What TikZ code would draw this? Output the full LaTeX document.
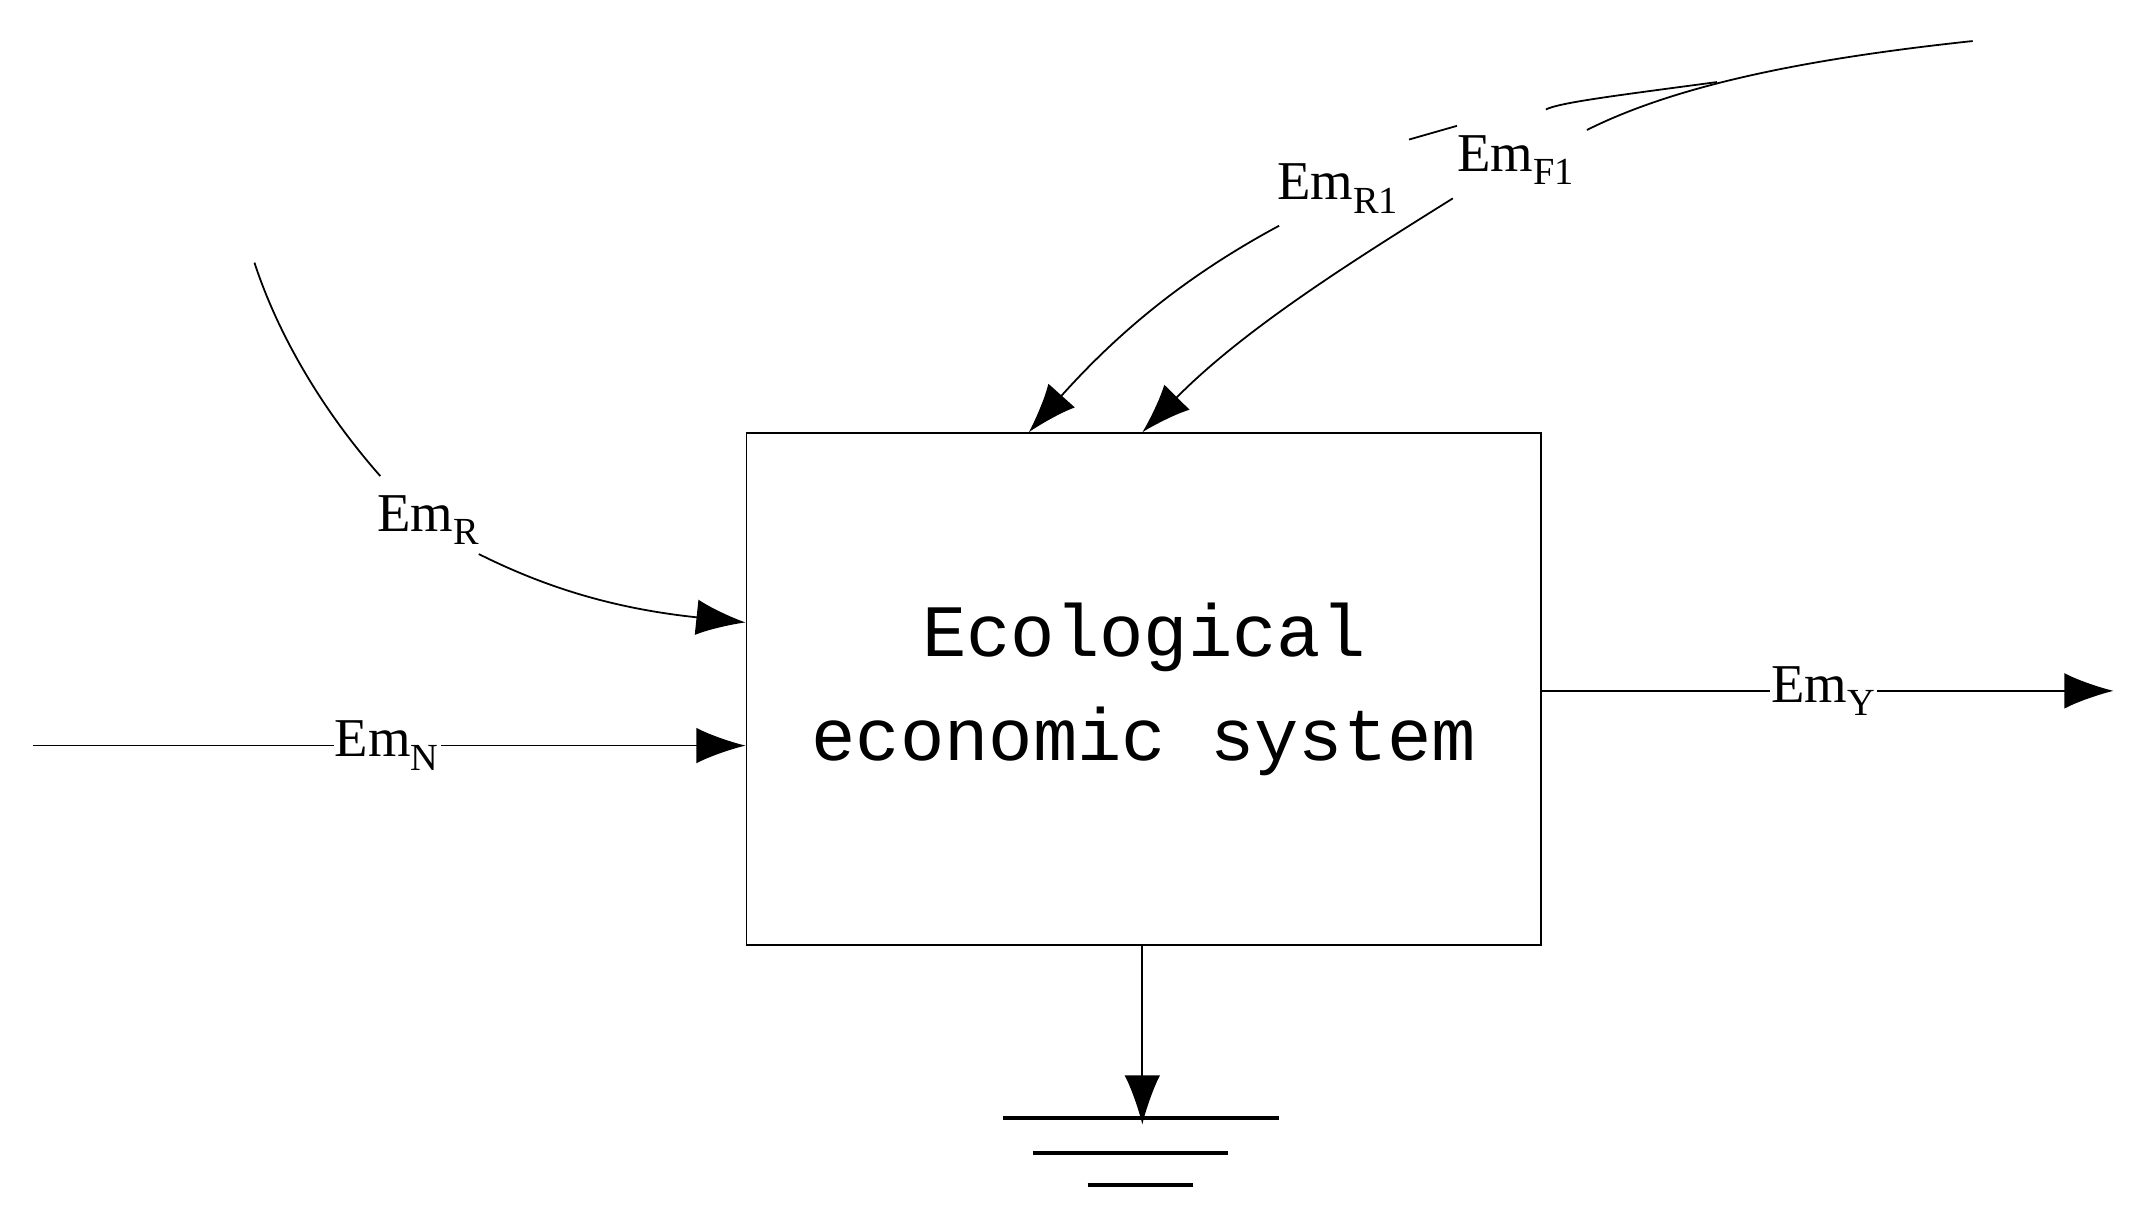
\documentclass[tikz,border=0pt]{standalone}
\usepackage{fontspec}
\setmainfont{Liberation Serif}
\newfontfamily\boxfont{Liberation Mono}
\usetikzlibrary{arrows.meta}
\begin{document}
\begin{tikzpicture}[x=1pt,y=-1pt,
  flow/.style={line width=1.3pt,-{Latex[length=36pt,width=26pt]}},
  plain/.style={line width=1.3pt},
  lab/.style={fill=white,inner sep=1pt,font=\fontsize{40}{44}\selectfont},
  gnd/.style={line width=3pt}]
\useasboundingbox (0,0) rectangle (1557,887);
\node[draw,line width=1.3pt,minimum width=581pt,minimum height=374pt,anchor=north west,
  align=center,font=\boxfont\fontsize{54}{76}\selectfont] (sys) at (545,316)
  {Ecological\\economic system};
% Em_R
\coordinate (rs) at (186,192);
\node[lab] (lr) at (313,380) {Em\textsubscript{R}};
\draw[plain] (rs) .. controls (205,250) and (240,305) .. (278,348);
\draw[flow] (350,405) .. controls (400,430) and (450,445) .. (sys.west |- 0,455);
% Em_N
\coordinate (ns) at (24,545);
\draw[flow] (ns) -- (sys.west |- 0,545);
\node[lab] (ln) at (283,545) {Em\textsubscript{N}};
% Em_R1
\coordinate (r1s) at (1255,60);
\draw[plain] (r1s) .. controls (1180,70) and (1140,75) .. (1130,80);
\draw[plain] (1030,102) -- (1065,92);
\node[lab] (lr1) at (978,138) {Em\textsubscript{R1}};
\draw[flow] (935,165) .. controls (870,200) and (820,240) .. (752,316);
% Em_F1
\coordinate (f1s) at (1442,30);
\draw[plain] (f1s) .. controls (1330,42) and (1230,60) .. (1160,95);
\node[lab] (lf1) at (1108,117) {Em\textsubscript{F1}};
\draw[flow] (1062,145) .. controls (990,190) and (910,240) .. (835,316);
% Em_Y
\coordinate (ye) at (1545,505);
\draw[flow] (sys.east |- 0,505) -- (ye);
\node[lab] (ly) at (1333,505) {Em\textsubscript{Y}};
% ground
\coordinate (g) at (835,822);
\draw[flow] (sys.south -| g) -- (g);
\draw[gnd] (733,817) -- (935,817);
\draw[gnd] (755,843) -- (898,843);
\draw[gnd] (795,866) -- (872,866);
\end{tikzpicture}
\end{document}
